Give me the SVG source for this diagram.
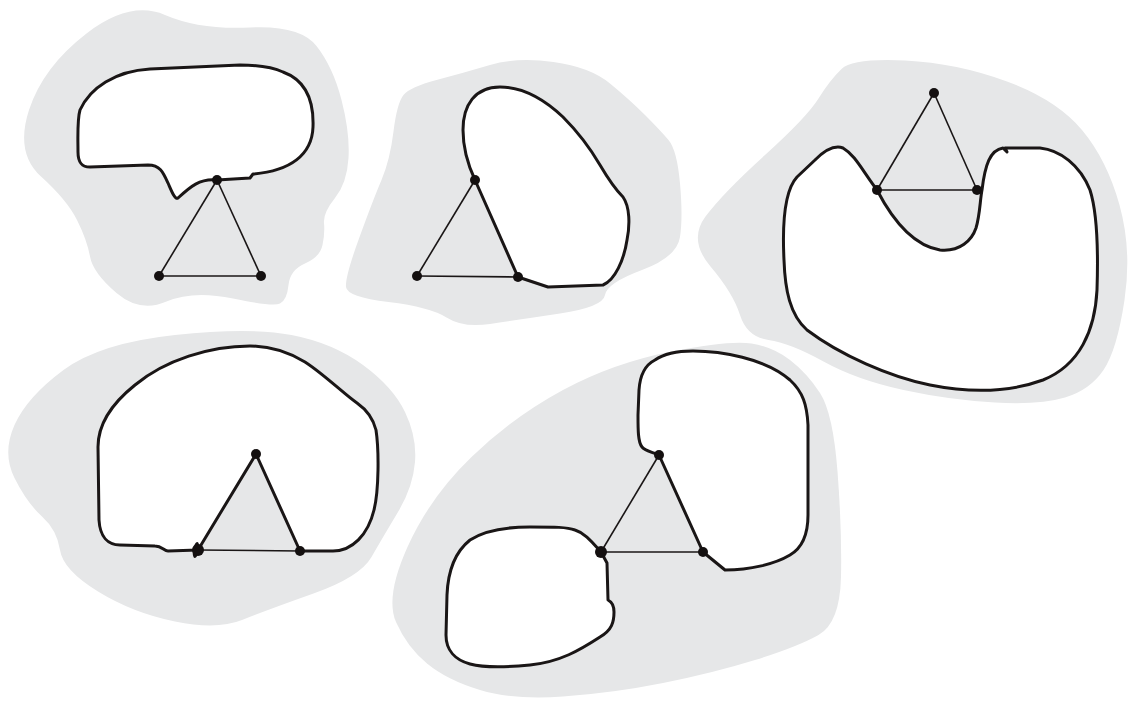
<svg xmlns="http://www.w3.org/2000/svg" width="1129" height="701" viewBox="0 0 1129 701">
<style>
.blob{fill:#e6e7e8;stroke:none}
.curve{fill:#fff;stroke:#1a1616;stroke-width:3;stroke-linejoin:round;stroke-linecap:round}
.edge{stroke:#1a1616;stroke-width:1.6;fill:none}
.dot{fill:#141010}
</style>
<rect width="1129" height="701" fill="#fff"/>
<g id="blobs">
<path class="blob" d="M 86.5,33.5 Q 130,0 165,15 Q 200,30 250,27.5 Q 300,25 316.5,46 Q 333,67 341.5,100 Q 350,133 348.5,158 Q 347,183 335,198 Q 323,213 324,223 Q 325,233 322.5,245 Q 320,257 305,263.5 Q 290,270 288.5,285 Q 287,300 280,303.5 Q 273,307 233,298.5 Q 193,290 166.5,301.5 Q 140,313 116.5,293 Q 93,273 90,256.5 Q 87,240 77,220 Q 67,200 41,176.5 Q 15,153 29,110 Q 43,67 86.5,33.5 Z"/>
<path class="blob" d="M 403.5,95 Q 410,87 436.5,80 Q 463,73 490,65 Q 517,57 553.5,62 Q 590,67 610,83.5 Q 630,100 645,115 Q 660,130 668.5,140 Q 677,150 680,183.5 Q 683,217 680,237 Q 677,257 642,270 Q 607,283 605,295 Q 603,307 560,313.5 Q 517,320 490,324 Q 463,328 446.5,317.5 Q 430,307 388.5,302 Q 347,297 346,287 Q 345,277 359,238.5 Q 373,200 381.5,180 Q 390,160 393.5,131.5 Q 397,103 403.5,95 Z"/>
<path class="blob" d="M 841.5,69 Q 853,58 905,60.5 Q 957,63 1007,81.5 Q 1057,100 1082,130 Q 1107,160 1119.5,205 Q 1132,250 1124.5,300 Q 1117,350 1103.5,370 Q 1090,390 1065,397.5 Q 1040,405 995,402.5 Q 950,400 903.5,390 Q 857,380 823.5,361.5 Q 790,343 768.5,340 Q 747,337 740,315 Q 733,293 710.5,266.5 Q 688,240 705.5,216.5 Q 723,193 765,155 Q 807,117 818.5,98.5 Q 830,80 841.5,69 Z"/>
<path class="blob" d="M 175,335 Q 250,327 291.5,335 Q 333,343 363,365 Q 393,387 405,412 Q 417,437 415,462 Q 413,487 398,512 Q 383,537 371.5,557 Q 360,577 313.5,593.5 Q 267,610 242,620 Q 217,630 175,621.5 Q 133,613 98,591.5 Q 63,570 60,550 Q 57,530 42,516.5 Q 27,503 14.5,478 Q 2,453 14.5,425 Q 27,397 63.5,370 Q 100,343 175,335 Z"/>
<path class="blob" d="M 671.5,351.5 Q 730,340 751.5,343.5 Q 773,347 790,360 Q 807,373 820,393 Q 833,413 837.5,471.5 Q 842,530 841,576.5 Q 840,623 818.5,635 Q 797,647 755,660 Q 713,673 663,683 Q 613,693 563,696.5 Q 513,700 480,690 Q 447,680 427,663.5 Q 407,647 396,622 Q 385,597 407.5,547 Q 430,497 471.5,457 Q 513,417 563,390 Q 613,363 671.5,351.5 Z"/>
</g>
<g id="panel1">
<path class="curve" d="M 217,180 L 250,178 L 253,174 C 290,171 312,155 313,127 C 314,100 305,80 283,72 C 270,66 255,65 240,65 L 150,69 C 115,71 90,88 80,110 C 77,120 78,140 78,152 C 78,163 82,167 90,167 L 148,165 C 160,165 163,172 168,183 C 172,192 175,200 178,198 C 190,187 200,178 217,180 Z"/>
<g class="edge"><line x1="217" y1="180" x2="159" y2="276"/><line x1="217" y1="180" x2="261" y2="276"/><line x1="159" y1="276" x2="261" y2="276"/></g>
<circle class="dot" cx="217" cy="180" r="5"/><circle class="dot" cx="159" cy="276" r="5"/><circle class="dot" cx="261" cy="276" r="5"/>
</g>
<g id="panel2">
<path class="curve" d="M 475,180 C 468,165 463,150 463,130 C 463,105 475,87 500,87 C 525,87 545,100 563,117 C 578,132 590,148 600,165 C 610,182 618,192 623,197 C 630,207 630,225 627,240 C 624,260 615,280 603,285 L 548,287 L 518,277 Z"/>
<g class="edge"><line x1="475" y1="180" x2="417" y2="276"/><line x1="417" y1="276" x2="518" y2="277"/></g>
<circle class="dot" cx="475" cy="180" r="5"/><circle class="dot" cx="417" cy="276" r="5"/><circle class="dot" cx="518" cy="277" r="5"/>
</g>
<g id="panel3">
<path class="curve" d="M 877,190 C 890,215 910,245 940,250 C 960,252 972,240 976,228 C 980,215 980,200 982,190 C 985,165 990,150 1003,148 L 1007,152 L 1005,148 L 1040,148 C 1060,150 1080,165 1090,190 C 1098,215 1098,260 1097,290 C 1095,330 1080,365 1043,380 C 1010,392 970,393 930,385 C 890,377 840,355 807,330 C 790,315 785,290 784,260 C 782,220 785,190 797,177 L 815,160 C 825,150 835,145 843,148 C 855,155 862,170 877,190 Z"/>
<g class="edge"><line x1="934" y1="93" x2="877" y2="190"/><line x1="934" y1="93" x2="977" y2="190"/><line x1="877" y1="190" x2="977" y2="190"/></g>
<circle class="dot" cx="934" cy="93" r="5"/><circle class="dot" cx="877" cy="190" r="5"/><circle class="dot" cx="977" cy="190" r="5"/>
</g>
<g id="panel4">
<path class="curve" d="M 198,550 L 256,454 L 300,551 L 333,551 C 352,551 368,535 374,510 C 379,490 379,450 376,430 C 373,418 367,410 357,403 C 345,395 325,375 305,362 C 285,350 265,346 250,346 C 210,346 165,360 135,385 C 110,405 98,425 98,447 L 99,520 C 100,537 108,545 120,545 L 155,546 C 162,546 164,551 168,551 Z"/>
<g class="edge"><line x1="198" y1="550" x2="300" y2="551"/></g>
<ellipse class="dot" cx="196" cy="550" rx="3" ry="8" transform="rotate(10 196 550)"/>
<circle class="dot" cx="256" cy="454" r="5"/><circle class="dot" cx="198" cy="550" r="6"/><circle class="dot" cx="300" cy="551" r="5"/>
</g>
<g id="panel5">
<path class="curve" d="M 659,455 C 652,452 645,451 642,447 C 638,442 638,430 638,415 L 639,390 C 640,375 645,365 655,360 C 665,353 680,351 693,351 C 720,351 765,358 790,380 C 803,392 807,405 808,425 L 808,515 C 808,535 802,548 790,555 C 775,564 750,570 725,570 L 703,552 Z"/>
<path class="curve" d="M 601,552 C 592,542 585,533 575,530 C 567,527 555,527 530,527 C 505,527 485,530 470,540 C 455,552 448,570 447,595 L 446,635 C 446,650 455,660 470,664 C 485,668 510,667 530,665 C 560,662 580,650 600,637 C 612,630 614,622 614,612 C 614,605 612,602 608,600 L 607,563 Z"/>
<g class="edge"><line x1="659" y1="455" x2="601" y2="552"/><line x1="601" y1="552" x2="703" y2="552"/></g>
<circle class="dot" cx="659" cy="455" r="5"/><circle class="dot" cx="601" cy="552" r="6"/><circle class="dot" cx="703" cy="552" r="5"/>
</g>
</svg>
